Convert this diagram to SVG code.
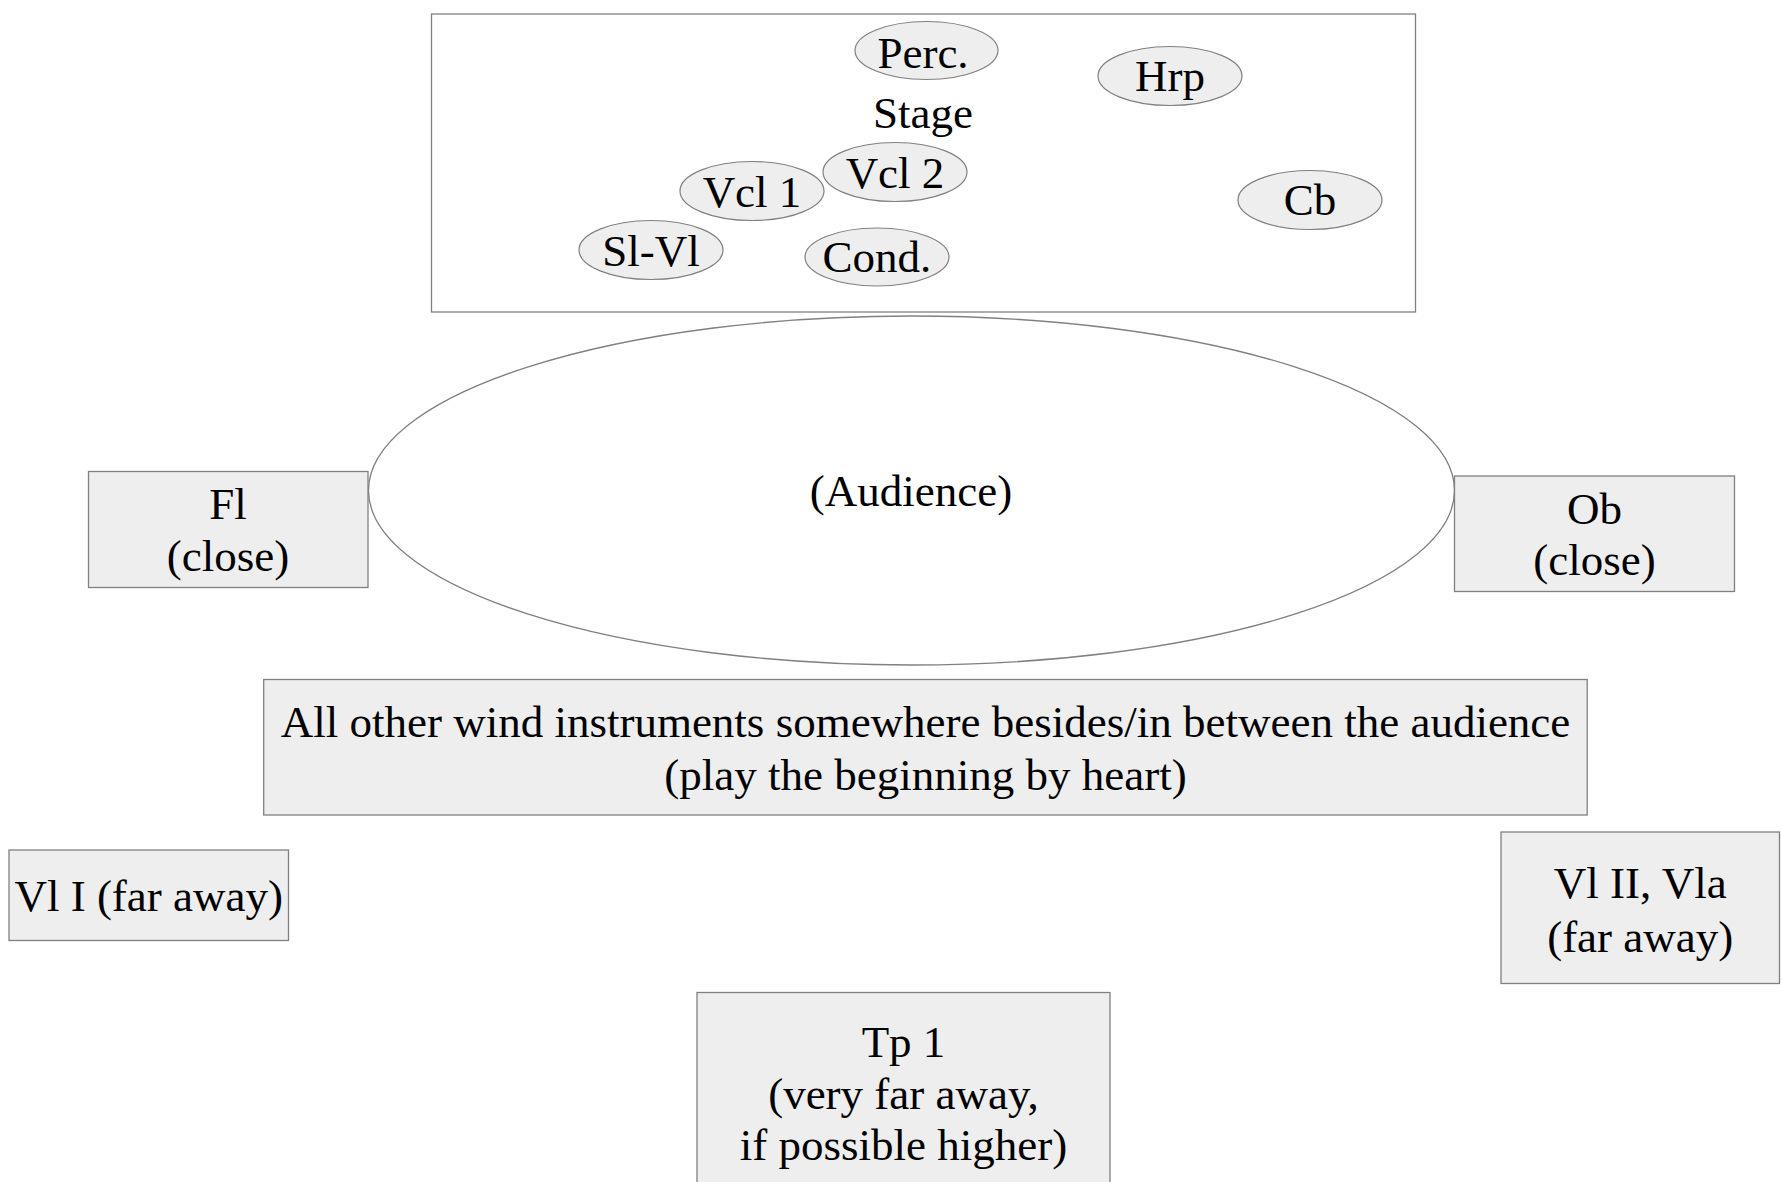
<svg xmlns="http://www.w3.org/2000/svg" width="1782" height="1182" viewBox="0 0 1782 1182">
<style>
text{font-family:"Liberation Serif","Times New Roman",serif;font-size:45px;fill:#000;text-anchor:middle}
.box{fill:#eeeeee;stroke:#808080;stroke-width:1.3}
.ell{fill:#eeeeee;stroke:#808080;stroke-width:1.2}
.open{fill:#ffffff;stroke:#808080;stroke-width:1.3}
</style>
<rect width="1782" height="1182" fill="#ffffff"/>
<g id="stage">
<rect class="open" x="431.5" y="14" width="984" height="298"/>
<text x="923" y="128">Stage</text>
</g>
<g id="perc"><ellipse class="ell" cx="926.5" cy="50.5" rx="71.5" ry="29"/><text x="923" y="68">Perc.</text></g>
<g id="hrp"><ellipse class="ell" cx="1170" cy="76" rx="72" ry="29.5"/><text x="1170" y="91">Hrp</text></g>
<g id="vcl2"><ellipse class="ell" cx="895" cy="172" rx="72" ry="29.5"/><text x="895" y="188">Vcl 2</text></g>
<g id="vcl1"><ellipse class="ell" cx="752" cy="191" rx="72" ry="29.5"/><text x="752" y="207">Vcl 1</text></g>
<g id="slvl"><ellipse class="ell" cx="651" cy="250" rx="72" ry="29.5"/><text x="651" y="266">Sl-Vl</text></g>
<g id="cond"><ellipse class="ell" cx="877" cy="257" rx="72" ry="29"/><text x="877" y="272">Cond.</text></g>
<g id="cb"><ellipse class="ell" cx="1310" cy="200" rx="72" ry="29.5"/><text x="1310" y="215">Cb</text></g>
<g id="audience">
<ellipse class="open" cx="911.5" cy="490.5" rx="543" ry="174.5"/>
<text x="911" y="506">(Audience)</text>
</g>
<g id="fl">
<rect class="box" x="88.5" y="471.5" width="279.5" height="116"/>
<text x="228" y="519">Fl</text>
<text x="228" y="571">(close)</text>
</g>
<g id="ob">
<rect class="box" x="1454.5" y="476" width="280" height="115.5"/>
<text x="1594.5" y="524">Ob</text>
<text x="1594.5" y="575">(close)</text>
</g>
<g id="winds">
<rect class="box" x="263.7" y="679.5" width="1323.5" height="135.5"/>
<text x="925.5" y="737">All other wind instruments somewhere besides/in between the audience</text>
<text x="925.5" y="790">(play the beginning by heart)</text>
</g>
<g id="vl1">
<rect class="box" x="9" y="850" width="279.5" height="90.5"/>
<text x="148.7" y="911">Vl I (far away)</text>
</g>
<g id="vl2">
<rect class="box" x="1501" y="832" width="278.5" height="151.5"/>
<text x="1640.2" y="898">Vl II, Vla</text>
<text x="1640.2" y="952">(far away)</text>
</g>
<g id="tp1">
<rect class="box" x="697" y="992.5" width="413" height="200"/>
<text x="903.5" y="1057">Tp 1</text>
<text x="903.5" y="1109">(very far away,</text>
<text x="903.5" y="1160">if possible higher)</text>
</g>
<g id="connectors"></g>
</svg>
